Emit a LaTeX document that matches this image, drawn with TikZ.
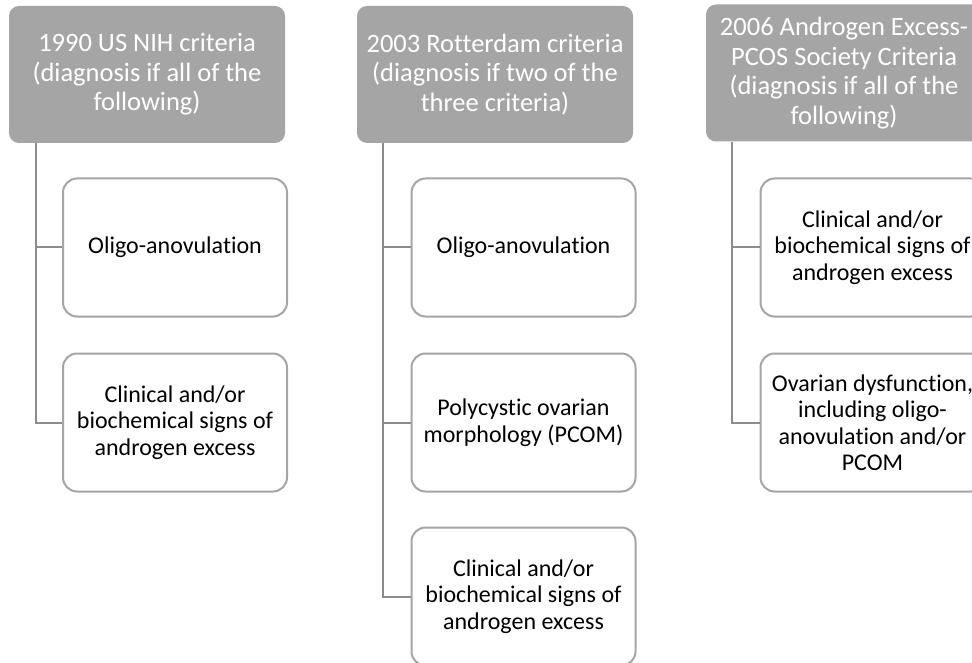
\documentclass[tikz,border=0pt]{standalone}
\usepackage{fontspec}
\setmainfont[Ligatures={NoCommon}]{Carlito}
\definecolor{hdrgray}{HTML}{A5A5A5}
\definecolor{boxgray}{HTML}{A5A5A5}
\definecolor{linegray}{HTML}{8C8C8C}
\definecolor{txt}{HTML}{000000}
\begin{document}
\begin{tikzpicture}[x=1pt,y=-1pt,
  header/.style={rectangle, rounded corners=10pt, fill=hdrgray, draw=none,
    minimum width=276pt, minimum height=137pt, inner sep=0pt, align=center,
    text=white, font=\fontsize{26.5}{29.5}\selectfont},
  crit/.style={rectangle, rounded corners=14pt, fill=white, draw=boxgray, line width=2pt,
    minimum width=224pt, minimum height=138pt, inner sep=0pt, align=center,
    text=txt, font=\fontsize{24}{26.5}\selectfont},
  conn/.style={draw=linegray, line width=2pt}]
\useasboundingbox (0,0) rectangle (972,663);
% Column 1
\node[header] (h1) at (147,74.5) {1990 US NIH criteria\\(diagnosis if all of the\\following)};
\node[crit] (c11) at (175,247.5) {Oligo-anovulation};
\node[crit] (c12) at (175,422.5) {Clinical and/or\\biochemical signs of\\androgen excess};
% Column 2
\node[header] (h2) at (495,74.5) {2003 Rotterdam criteria\\(diagnosis if two of the\\three criteria)};
\node[crit] (c21) at (523.5,247.5) {Oligo-anovulation};
\node[crit] (c22) at (523.5,422.5) {Polycystic ovarian\\morphology (PCOM)};
\node[crit] (c23) at (523.5,596.5) {Clinical and/or\\biochemical signs of\\androgen excess};
% Column 3
\node[header] (h3) at (844,73) {2006 Androgen Excess-\\PCOS Society Criteria\\(diagnosis if all of the\\following)};
\node[crit] (c31) at (872.5,247.5) {Clinical and/or\\biochemical signs of\\androgen excess};
\node[crit] (c32) at (872.5,422.5) {Ovarian dysfunction,\\including oligo-\\anovulation and/or\\PCOM};
% Connectors
\draw[conn] ([xshift=27pt]h1.south west) |- (c11.west);
\draw[conn] ([xshift=27pt]h1.south west) |- (c12.west);
\draw[conn] ([xshift=26pt]h2.south west) |- (c21.west);
\draw[conn] ([xshift=26pt]h2.south west) |- (c22.west);
\draw[conn] ([xshift=26pt]h2.south west) |- (c23.west);
\draw[conn] ([xshift=26pt]h3.south west) |- (c31.west);
\draw[conn] ([xshift=26pt]h3.south west) |- (c32.west);
\end{tikzpicture}
\end{document}
